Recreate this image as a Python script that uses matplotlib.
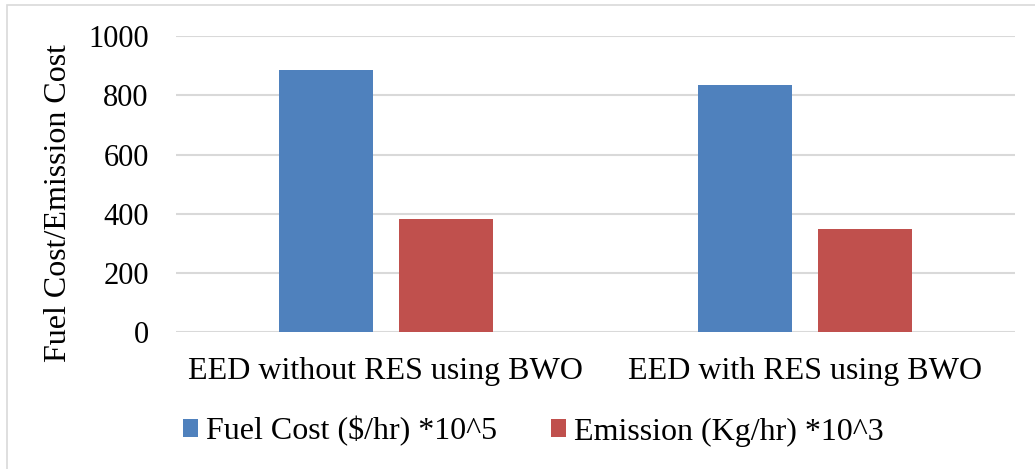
import numpy as np
import matplotlib.pyplot as plt
from matplotlib.patches import Rectangle

plt.rcParams['font.family'] = ['Liberation Serif', 'DejaVu Serif']

categories = ['EED without RES using BWO', 'EED with RES using BWO']
fuel_cost = [885, 835]
emission = [383, 350]
series_names = ['Fuel Cost ($/hr) *10^5', 'Emission (Kg/hr) *10^3']
colors = ['#4F81BD', '#C0504D']

fig = plt.figure(figsize=(10.35, 4.69), dpi=100)
ax = fig.add_axes([0.1705, 0.2915, 0.8097, 0.6317])

x = np.arange(len(categories))
w = 0.224
ax.bar(x - 0.143, fuel_cost, w, color=colors[0], label=series_names[0])
ax.bar(x + 0.143, emission, w, color=colors[1], label=series_names[1])

ax.set_xlim(-0.5, 1.5)
ax.set_ylim(0, 1000)
ax.set_yticks(range(0, 1001, 200))
ax.set_xticks(x)
ax.set_xticklabels(categories, fontsize=23)
ax.tick_params(axis='both', length=0)
ax.tick_params(axis='y', pad=20, labelsize=22)
ax.tick_params(axis='x', pad=18)
ax.grid(axis='y', color='#D9D9D9', linewidth=1.5)
ax.set_axisbelow(True)
for s in ax.spines.values():
    s.set_visible(False)
ax.set_ylabel('Fuel Cost/Emission Cost', fontsize=23)
ax.yaxis.set_label_coords(-0.123, 0.436)

fig.legend(loc='center', bbox_to_anchor=(0.5155, 0.08), ncol=2, frameon=False,
           fontsize=23, handlelength=0.47, handleheight=0.47, handletextpad=0.25,
           columnspacing=1.7)

# light outer border of the chart area
fig.patches.append(Rectangle((7 / 1035, -0.1), 1.2, 1 - 5 / 469 + 0.1,
                             transform=fig.transFigure, fill=False,
                             edgecolor='#D9D9D9', linewidth=1.2))

fig.savefig('out.png', dpi=100)
